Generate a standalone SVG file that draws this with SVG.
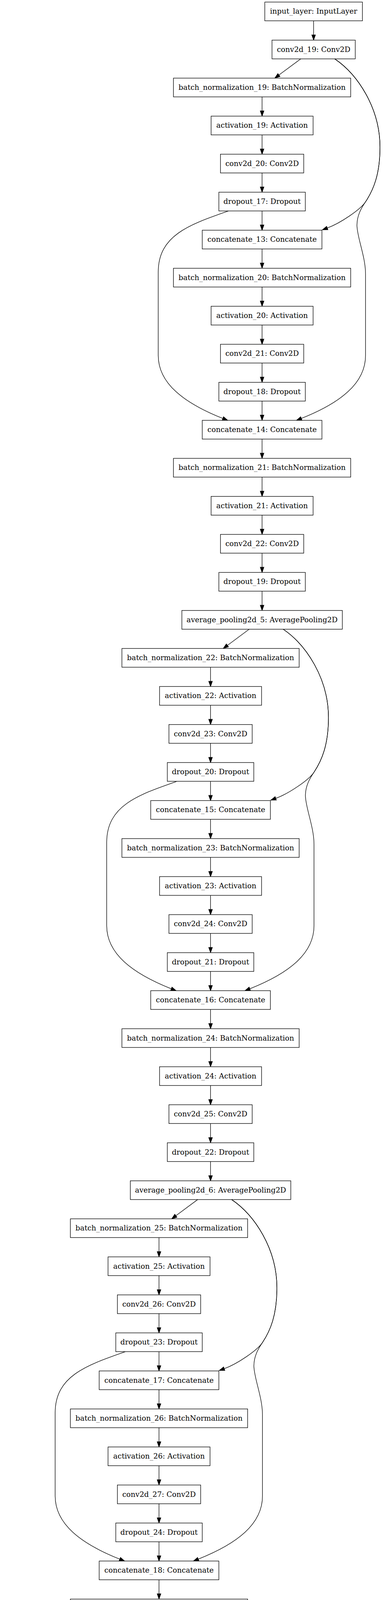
<svg xmlns="http://www.w3.org/2000/svg" width="981" height="6192" viewBox="0 0 981 6192">
<style>
.node rect{fill:#fff;stroke:#000;stroke-width:1.33}
.node text{font-family:"DejaVu Serif","Liberation Serif",serif;font-size:18.67px;text-anchor:middle;fill:#000}
.edge{fill:none;stroke:#000;stroke-width:1.33;marker-end:url(#arr)}
</style>
<defs>
<marker id="arr" markerUnits="userSpaceOnUse" markerWidth="16" markerHeight="12" refX="0" refY="0" orient="auto" overflow="visible">
<path d="M0,-4.67L13.33,0L0,4.67Z" fill="#000" stroke="#000" stroke-width="1.33"/>
</marker>
</defs>
<rect width="981" height="6192" fill="#fff"/>
<g id="connectors">
<path class="edge" d="M803.3,53.33V89.34"/>
<g id="block1_edges" transform="translate(671.3,126.67)">
<path class="edge" d="M99,24L43.2,65.4"/>
<path class="edge" d="M186,24C245,64 302,150 302,250C302,320 285,360 265,390C252,410 200,445 167,457"/>
<path class="edge" d="M186,24C245,64 302,150 302,250C302,320 285,360 265,390C254,406 243,425 243,450C243,480 265,530 265,575L265,783C265,855 200,905 100.5,944.5"/>
<path class="edge" d="M-86,413.4C-185,448 -266,475 -266,570L-266,783C-266,855 -200,905 -100.5,944.5"/>
<path class="edge" d="M0,121.34V157.35"/><path class="edge" d="M0,218.68V254.69"/><path class="edge" d="M0,316.02V352.03"/><path class="edge" d="M0,413.36V449.37"/><path class="edge" d="M0,510.7V546.71"/><path class="edge" d="M0,608.04V644.05"/><path class="edge" d="M0,705.38V741.39"/><path class="edge" d="M0,802.72V838.73"/><path class="edge" d="M0,900.06V936.07"/><path class="edge" d="M0,997.4V1033.41"/><path class="edge" d="M0,1094.74V1130.75"/><path class="edge" d="M0,1192.08V1228.09"/><path class="edge" d="M0,1289.42V1325.43"/><path class="edge" d="M0,1386.76V1422.77"/>
</g>
<g id="block2_edges" transform="translate(539.3,1586.77)">
<path class="edge" d="M99,24L43.2,65.4"/>
<path class="edge" d="M186,24C245,64 302,150 302,250C302,320 285,360 265,390C252,410 200,445 167,457"/>
<path class="edge" d="M186,24C245,64 302,150 302,250C302,320 285,360 265,390C254,406 243,425 243,450C243,480 265,530 265,575L265,783C265,855 200,905 100.5,944.5"/>
<path class="edge" d="M-86,413.4C-185,448 -266,475 -266,570L-266,783C-266,855 -200,905 -100.5,944.5"/>
<path class="edge" d="M0,121.34V157.35"/><path class="edge" d="M0,218.68V254.69"/><path class="edge" d="M0,316.02V352.03"/><path class="edge" d="M0,413.36V449.37"/><path class="edge" d="M0,510.7V546.71"/><path class="edge" d="M0,608.04V644.05"/><path class="edge" d="M0,705.38V741.39"/><path class="edge" d="M0,802.72V838.73"/><path class="edge" d="M0,900.06V936.07"/><path class="edge" d="M0,997.4V1033.41"/><path class="edge" d="M0,1094.74V1130.75"/><path class="edge" d="M0,1192.08V1228.09"/><path class="edge" d="M0,1289.42V1325.43"/><path class="edge" d="M0,1386.76V1422.77"/>
</g>
<g id="block3_edges" transform="translate(407.3,3046.87)">
<path class="edge" d="M99,24L43.2,65.4"/>
<path class="edge" d="M186,24C245,64 302,150 302,250C302,320 285,360 265,390C252,410 200,445 167,457"/>
<path class="edge" d="M186,24C245,64 302,150 302,250C302,320 285,360 265,390C254,406 243,425 243,450C243,480 265,530 265,575L265,783C265,855 200,905 100.5,944.5"/>
<path class="edge" d="M-86,413.4C-185,448 -266,475 -266,570L-266,783C-266,855 -200,905 -100.5,944.5"/>
<path class="edge" d="M0,121.34V157.35"/><path class="edge" d="M0,218.68V254.69"/><path class="edge" d="M0,316.02V352.03"/><path class="edge" d="M0,413.36V449.37"/><path class="edge" d="M0,510.7V546.71"/><path class="edge" d="M0,608.04V644.05"/><path class="edge" d="M0,705.38V741.39"/><path class="edge" d="M0,802.72V838.73"/><path class="edge" d="M0,900.06V936.07"/><path class="edge" d="M0,997.4V1033.41"/><path class="edge" d="M0,1094.74V1130.75"/><path class="edge" d="M0,1192.08V1228.09"/><path class="edge" d="M0,1289.42V1325.43"/><path class="edge" d="M0,1386.76V1422.77"/>
</g>
<g id="block4_edges" transform="translate(275.3,4506.97)">
<path class="edge" d="M99,24L43.2,65.4"/>
<path class="edge" d="M186,24C245,64 302,150 302,250C302,320 285,360 265,390C252,410 200,445 167,457"/>
<path class="edge" d="M186,24C245,64 302,150 302,250C302,320 285,360 265,390C254,406 243,425 243,450C243,480 265,530 265,575L265,783C265,855 200,905 100.5,944.5"/>
<path class="edge" d="M-86,413.4C-185,448 -266,475 -266,570L-266,783C-266,855 -200,905 -100.5,944.5"/>
<path class="edge" d="M0,121.34V157.35"/><path class="edge" d="M0,218.68V254.69"/><path class="edge" d="M0,316.02V352.03"/><path class="edge" d="M0,413.36V449.37"/><path class="edge" d="M0,510.7V546.71"/><path class="edge" d="M0,608.04V644.05"/><path class="edge" d="M0,705.38V741.39"/><path class="edge" d="M0,802.72V838.73"/><path class="edge" d="M0,900.06V936.07"/><path class="edge" d="M0,997.4V1033.41"/><path class="edge" d="M0,1094.74V1130.75"/><path class="edge" d="M0,1192.08V1228.09"/><path class="edge" d="M0,1289.42V1325.43"/><path class="edge" d="M0,1386.76V1422.77"/><path class="edge" d="M0,1484.1V1520.11"/><path class="edge" d="M0,1581.44V1617.45"/>
</g>
</g>
<g id="nodes">
<g id="input_layer" class="node"><rect x="678.3" y="5.33" width="250" height="48"/><text x="803.3" y="35.33">input_layer: InputLayer</text></g>
<g id="conv2d_19" class="node"><rect x="696.65" y="102.67" width="213.3" height="48"/><text x="803.3" y="132.67">conv2d_19: Conv2D</text></g>
<g id="batch_normalization_19" class="node"><rect x="444.3" y="200.01" width="454" height="48"/><text x="671.3" y="230.01">batch_normalization_19: BatchNormalization</text></g>
<g id="activation_19" class="node"><rect x="540.65" y="297.35" width="261.3" height="48"/><text x="671.3" y="327.35">activation_19: Activation</text></g>
<g id="conv2d_20" class="node"><rect x="564.65" y="394.69" width="213.3" height="48"/><text x="671.3" y="424.69">conv2d_20: Conv2D</text></g>
<g id="dropout_17" class="node"><rect x="560.55" y="492.03" width="221.5" height="48"/><text x="671.3" y="522.03">dropout_17: Dropout</text></g>
<g id="concatenate_13" class="node"><rect x="518.05" y="589.37" width="306.5" height="48"/><text x="671.3" y="619.37">concatenate_13: Concatenate</text></g>
<g id="batch_normalization_20" class="node"><rect x="444.3" y="686.71" width="454" height="48"/><text x="671.3" y="716.71">batch_normalization_20: BatchNormalization</text></g>
<g id="activation_20" class="node"><rect x="540.65" y="784.05" width="261.3" height="48"/><text x="671.3" y="814.05">activation_20: Activation</text></g>
<g id="conv2d_21" class="node"><rect x="564.65" y="881.39" width="213.3" height="48"/><text x="671.3" y="911.39">conv2d_21: Conv2D</text></g>
<g id="dropout_18" class="node"><rect x="560.55" y="978.73" width="221.5" height="48"/><text x="671.3" y="1008.73">dropout_18: Dropout</text></g>
<g id="concatenate_14" class="node"><rect x="518.05" y="1076.07" width="306.5" height="48"/><text x="671.3" y="1106.07">concatenate_14: Concatenate</text></g>
<g id="batch_normalization_21" class="node"><rect x="444.3" y="1173.41" width="454" height="48"/><text x="671.3" y="1203.41">batch_normalization_21: BatchNormalization</text></g>
<g id="activation_21" class="node"><rect x="540.65" y="1270.75" width="261.3" height="48"/><text x="671.3" y="1300.75">activation_21: Activation</text></g>
<g id="conv2d_22" class="node"><rect x="564.65" y="1368.09" width="213.3" height="48"/><text x="671.3" y="1398.09">conv2d_22: Conv2D</text></g>
<g id="dropout_19" class="node"><rect x="560.55" y="1465.43" width="221.5" height="48"/><text x="671.3" y="1495.43">dropout_19: Dropout</text></g>
<g id="average_pooling2d_5" class="node"><rect x="465.8" y="1562.77" width="411" height="48"/><text x="671.3" y="1592.77">average_pooling2d_5: AveragePooling2D</text></g>
<g id="batch_normalization_22" class="node"><rect x="312.3" y="1660.11" width="454" height="48"/><text x="539.3" y="1690.11">batch_normalization_22: BatchNormalization</text></g>
<g id="activation_22" class="node"><rect x="408.65" y="1757.45" width="261.3" height="48"/><text x="539.3" y="1787.45">activation_22: Activation</text></g>
<g id="conv2d_23" class="node"><rect x="432.65" y="1854.79" width="213.3" height="48"/><text x="539.3" y="1884.79">conv2d_23: Conv2D</text></g>
<g id="dropout_20" class="node"><rect x="428.55" y="1952.13" width="221.5" height="48"/><text x="539.3" y="1982.13">dropout_20: Dropout</text></g>
<g id="concatenate_15" class="node"><rect x="386.05" y="2049.47" width="306.5" height="48"/><text x="539.3" y="2079.47">concatenate_15: Concatenate</text></g>
<g id="batch_normalization_23" class="node"><rect x="312.3" y="2146.81" width="454" height="48"/><text x="539.3" y="2176.81">batch_normalization_23: BatchNormalization</text></g>
<g id="activation_23" class="node"><rect x="408.65" y="2244.15" width="261.3" height="48"/><text x="539.3" y="2274.15">activation_23: Activation</text></g>
<g id="conv2d_24" class="node"><rect x="432.65" y="2341.49" width="213.3" height="48"/><text x="539.3" y="2371.49">conv2d_24: Conv2D</text></g>
<g id="dropout_21" class="node"><rect x="428.55" y="2438.83" width="221.5" height="48"/><text x="539.3" y="2468.83">dropout_21: Dropout</text></g>
<g id="concatenate_16" class="node"><rect x="386.05" y="2536.17" width="306.5" height="48"/><text x="539.3" y="2566.17">concatenate_16: Concatenate</text></g>
<g id="batch_normalization_24" class="node"><rect x="312.3" y="2633.51" width="454" height="48"/><text x="539.3" y="2663.51">batch_normalization_24: BatchNormalization</text></g>
<g id="activation_24" class="node"><rect x="408.65" y="2730.85" width="261.3" height="48"/><text x="539.3" y="2760.85">activation_24: Activation</text></g>
<g id="conv2d_25" class="node"><rect x="432.65" y="2828.19" width="213.3" height="48"/><text x="539.3" y="2858.19">conv2d_25: Conv2D</text></g>
<g id="dropout_22" class="node"><rect x="428.55" y="2925.53" width="221.5" height="48"/><text x="539.3" y="2955.53">dropout_22: Dropout</text></g>
<g id="average_pooling2d_6" class="node"><rect x="333.8" y="3022.87" width="411" height="48"/><text x="539.3" y="3052.87">average_pooling2d_6: AveragePooling2D</text></g>
<g id="batch_normalization_25" class="node"><rect x="180.3" y="3120.21" width="454" height="48"/><text x="407.3" y="3150.21">batch_normalization_25: BatchNormalization</text></g>
<g id="activation_25" class="node"><rect x="276.65" y="3217.55" width="261.3" height="48"/><text x="407.3" y="3247.55">activation_25: Activation</text></g>
<g id="conv2d_26" class="node"><rect x="300.65" y="3314.89" width="213.3" height="48"/><text x="407.3" y="3344.89">conv2d_26: Conv2D</text></g>
<g id="dropout_23" class="node"><rect x="296.55" y="3412.23" width="221.5" height="48"/><text x="407.3" y="3442.23">dropout_23: Dropout</text></g>
<g id="concatenate_17" class="node"><rect x="254.05" y="3509.57" width="306.5" height="48"/><text x="407.3" y="3539.57">concatenate_17: Concatenate</text></g>
<g id="batch_normalization_26" class="node"><rect x="180.3" y="3606.91" width="454" height="48"/><text x="407.3" y="3636.91">batch_normalization_26: BatchNormalization</text></g>
<g id="activation_26" class="node"><rect x="276.65" y="3704.25" width="261.3" height="48"/><text x="407.3" y="3734.25">activation_26: Activation</text></g>
<g id="conv2d_27" class="node"><rect x="300.65" y="3801.59" width="213.3" height="48"/><text x="407.3" y="3831.59">conv2d_27: Conv2D</text></g>
<g id="dropout_24" class="node"><rect x="296.55" y="3898.93" width="221.5" height="48"/><text x="407.3" y="3928.93">dropout_24: Dropout</text></g>
<g id="concatenate_18" class="node"><rect x="254.05" y="3996.27" width="306.5" height="48"/><text x="407.3" y="4026.27">concatenate_18: Concatenate</text></g>
<g id="batch_normalization_27" class="node"><rect x="180.3" y="4093.61" width="454" height="48"/><text x="407.3" y="4123.61">batch_normalization_27: BatchNormalization</text></g>
<g id="activation_27" class="node"><rect x="276.65" y="4190.95" width="261.3" height="48"/><text x="407.3" y="4220.95">activation_27: Activation</text></g>
<g id="conv2d_28" class="node"><rect x="300.65" y="4288.29" width="213.3" height="48"/><text x="407.3" y="4318.29">conv2d_28: Conv2D</text></g>
<g id="dropout_25" class="node"><rect x="296.55" y="4385.63" width="221.5" height="48"/><text x="407.3" y="4415.63">dropout_25: Dropout</text></g>
<g id="average_pooling2d_7" class="node"><rect x="201.8" y="4482.97" width="411" height="48"/><text x="407.3" y="4512.97">average_pooling2d_7: AveragePooling2D</text></g>
<g id="batch_normalization_28" class="node"><rect x="48.3" y="4580.31" width="454" height="48"/><text x="275.3" y="4610.31">batch_normalization_28: BatchNormalization</text></g>
<g id="activation_28" class="node"><rect x="144.65" y="4677.65" width="261.3" height="48"/><text x="275.3" y="4707.65">activation_28: Activation</text></g>
<g id="conv2d_29" class="node"><rect x="168.65" y="4774.99" width="213.3" height="48"/><text x="275.3" y="4804.99">conv2d_29: Conv2D</text></g>
<g id="dropout_26" class="node"><rect x="164.55" y="4872.33" width="221.5" height="48"/><text x="275.3" y="4902.33">dropout_26: Dropout</text></g>
<g id="concatenate_19" class="node"><rect x="122.05" y="4969.67" width="306.5" height="48"/><text x="275.3" y="4999.67">concatenate_19: Concatenate</text></g>
<g id="batch_normalization_29" class="node"><rect x="48.3" y="5067.01" width="454" height="48"/><text x="275.3" y="5097.01">batch_normalization_29: BatchNormalization</text></g>
<g id="activation_29" class="node"><rect x="144.65" y="5164.35" width="261.3" height="48"/><text x="275.3" y="5194.35">activation_29: Activation</text></g>
<g id="conv2d_30" class="node"><rect x="168.65" y="5261.69" width="213.3" height="48"/><text x="275.3" y="5291.69">conv2d_30: Conv2D</text></g>
<g id="dropout_27" class="node"><rect x="164.55" y="5359.03" width="221.5" height="48"/><text x="275.3" y="5389.03">dropout_27: Dropout</text></g>
<g id="concatenate_20" class="node"><rect x="122.05" y="5456.37" width="306.5" height="48"/><text x="275.3" y="5486.37">concatenate_20: Concatenate</text></g>
<g id="batch_normalization_30" class="node"><rect x="48.3" y="5553.71" width="454" height="48"/><text x="275.3" y="5583.71">batch_normalization_30: BatchNormalization</text></g>
<g id="activation_30" class="node"><rect x="144.65" y="5651.05" width="261.3" height="48"/><text x="275.3" y="5681.05">activation_30: Activation</text></g>
<g id="global_average_pooling2d_3" class="node"><rect x="5.05" y="5748.39" width="540.5" height="48"/><text x="275.3" y="5778.39">global_average_pooling2d_3: GlobalAveragePooling2D</text></g>
<g id="dense_3" class="node"><rect x="189.6" y="5845.73" width="171.4" height="48"/><text x="275.3" y="5875.73">dense_3: Dense</text></g>
<g id="fc1" class="node"><rect x="213.65" y="5943.07" width="123.3" height="48"/><text x="275.3" y="5973.07">fc1: Dense</text></g>
<g id="fc2" class="node"><rect x="213.65" y="6040.41" width="123.3" height="48"/><text x="275.3" y="6070.41">fc2: Dense</text></g>
<g id="output_layer" class="node"><rect x="167.8" y="6137.75" width="215" height="48"/><text x="275.3" y="6167.75">output_layer: Dense</text></g>
</g>
</svg>
